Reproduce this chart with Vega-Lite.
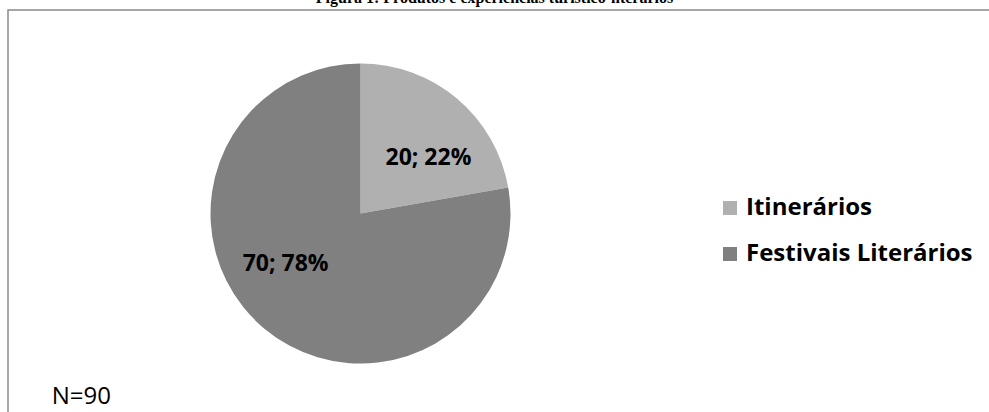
{
  "$schema": "https://vega.github.io/schema/vega-lite/v6.json",
  "autosize": "none",
  "width": 983,
  "height": 404,
  "padding": {"left": 8, "top": 10, "right": -2, "bottom": -2},
  "background": "white",
  "title": {
    "text": "Figura 1: Produtos e experiências turístico-literários",
    "font": "Liberation Serif",
    "fontSize": 16,
    "fontWeight": "bold",
    "color": "black",
    "anchor": "middle",
    "frame": "group",
    "baseline": "alphabetic",
    "offset": -9,
    "dx": -5
  },
  "config": {"view": {"stroke": "#8a8a8a", "strokeWidth": 1.5}},
  "data": {
    "values": [
      {"category": "Itinerários", "value": 20, "label": "20; 22%", "ord": 1},
      {"category": "Festivais Literários", "value": 70, "label": "70; 78%", "ord": 2}
    ]
  },
  "layer": [
    {
      "mark": {"type": "arc", "outerRadius": 150, "xOffset": -139, "yOffset": 1.5},
      "encoding": {
        "theta": {"field": "value", "type": "quantitative", "stack": true},
        "order": {"field": "ord", "type": "quantitative"},
        "color": {
          "field": "category",
          "type": "nominal",
          "scale": {"domain": ["Itinerários", "Festivais Literários"], "range": ["#b0b0b0", "#808080"]},
          "legend": {
            "orient": "none",
            "legendX": 710,
            "legendY": 186,
            "title": null,
            "padding": 0,
            "labelFont": "Open Sans",
            "labelFontSize": 24,
            "labelFontWeight": "bold",
            "labelColor": "black",
            "labelLimit": 400,
            "labelOffset": 4,
            "symbolType": "square",
            "symbolSize": 196,
            "symbolStrokeWidth": 0,
            "rowPadding": 22
          }
        }
      }
    },
    {
      "transform": [
        {"stack": "value", "groupby": [], "sort": [{"field": "ord", "order": "ascending"}], "as": ["v0", "v1"]},
        {"calculate": "(datum.v0 + datum.v1) / 2", "as": "mid"},
        {"filter": "datum.ord == 1"}
      ],
      "mark": {"type": "text", "radius": 87, "xOffset": -127, "yOffset": 13, "font": "Open Sans", "fontWeight": "bold", "fontSize": 23, "align": "center", "baseline": "middle", "color": "black"},
      "encoding": {
        "theta": {"field": "mid", "type": "quantitative", "stack": null},
        "text": {"field": "label"}
      }
    },
    {
      "transform": [
        {"stack": "value", "groupby": [], "sort": [{"field": "ord", "order": "ascending"}], "as": ["v0", "v1"]},
        {"calculate": "(datum.v0 + datum.v1) / 2", "as": "mid"},
        {"filter": "datum.ord == 2"}
      ],
      "mark": {"type": "text", "radius": 87, "xOffset": -158, "yOffset": -15, "font": "Open Sans", "fontWeight": "bold", "fontSize": 23, "align": "center", "baseline": "middle", "color": "black"},
      "encoding": {
        "theta": {"field": "mid", "type": "quantitative", "stack": null},
        "text": {"field": "label"}
      }
    },
    {
      "data": {"values": [{"note": "N=90"}]},
      "mark": {"type": "text", "font": "Open Sans", "fontSize": 24, "align": "left", "baseline": "alphabetic", "color": "black"},
      "encoding": {
        "text": {"field": "note"},
        "x": {"value": 43.7},
        "y": {"value": 394}
      }
    }
  ]
}
